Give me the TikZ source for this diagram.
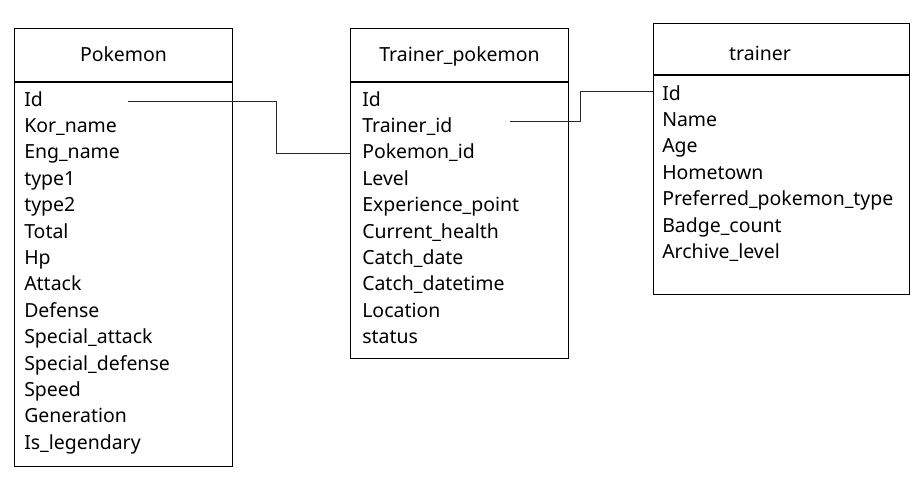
\documentclass[tikz,border=0pt]{standalone}
\usepackage{fontspec}
\setmainfont{Noto Sans}
\usetikzlibrary{positioning}
\tikzstyle{tablehead} = [rectangle, draw, line width=0.75pt, inner sep=0pt, text height=1.2em, text depth=.2em]
\tikzstyle{tablebody} = [rectangle, draw, line width=0.75pt, inner sep=0pt, anchor=north]
\tikzstyle{row} = [anchor=base west, inner sep=0pt, text height=.95em, text depth=.2em]
\tikzstyle{link} = [draw, line width=0.75pt, black!85]
\tikzset{rowbelow/.style={below=of #1.base west, anchor=base west}}

\begin{document}
\begin{tikzpicture}[x=0.75pt,y=-0.75pt,node distance=19.8pt,font=\fontsize{14.6}{17}\selectfont]
  \useasboundingbox (0,0) rectangle (923,479);

  % Pokemon
  \node[tablehead, anchor=north west, minimum width=163.5pt, minimum height=39.75pt] (pk-head) at (14,28) {Pokemon};
  \node[tablebody, minimum width=163.5pt, minimum height=288pt] (pk-body) at (pk-head.south) {};
  \node[row] (pk-id) at (24,106) {Id};
  \node[row, rowbelow=pk-id] (pk-kor) {Kor\_name};
  \node[row, rowbelow=pk-kor] (pk-eng) {Eng\_name};
  \node[row, rowbelow=pk-eng] (pk-type1) {type1};
  \node[row, rowbelow=pk-type1] (pk-type2) {type2};
  \node[row, rowbelow=pk-type2] (pk-total) {Total};
  \node[row, rowbelow=pk-total] (pk-hp) {Hp};
  \node[row, rowbelow=pk-hp] (pk-atk) {Attack};
  \node[row, rowbelow=pk-atk] (pk-def) {Defense};
  \node[row, rowbelow=pk-def] (pk-spatk) {Special\_attack};
  \node[row, rowbelow=pk-spatk] (pk-spdef) {Special\_defense};
  \node[row, rowbelow=pk-spdef] (pk-speed) {Speed};
  \node[row, rowbelow=pk-speed] (pk-gen) {Generation};
  \node[row, rowbelow=pk-gen] (pk-leg) {Is\_legendary};

  % Trainer_pokemon
  \node[tablehead, anchor=north west, minimum width=163.5pt, minimum height=39.75pt] (tp-head) at (350,28) {Trainer\_pokemon};
  \node[tablebody, minimum width=163.5pt, minimum height=207pt] (tp-body) at (tp-head.south) {};
  \node[row] (tp-id) at (362,106) {Id};
  \node[row, rowbelow=tp-id] (tp-trid) {Trainer\_id};
  \node[row, rowbelow=tp-trid] (tp-pkid) {Pokemon\_id};
  \node[row, rowbelow=tp-pkid] (tp-level) {Level};
  \node[row, rowbelow=tp-level] (tp-exp) {Experience\_point};
  \node[row, rowbelow=tp-exp] (tp-health) {Current\_health};
  \node[row, rowbelow=tp-health] (tp-date) {Catch\_date};
  \node[row, rowbelow=tp-date] (tp-datetime) {Catch\_datetime};
  \node[row, rowbelow=tp-datetime] (tp-loc) {Location};
  \node[row, rowbelow=tp-loc] (tp-status) {status};

  % trainer
  \node[tablehead, anchor=north west, minimum width=192pt, minimum height=38.25pt] (tr-head) at (653,23) {};
  \node (tr-title) at (760,53) {trainer};
  \node[tablebody, minimum width=192pt, minimum height=164.25pt] (tr-body) at (tr-head.south) {};
  \node[row] (tr-id) at (662,100) {Id};
  \node[row, rowbelow=tr-id] (tr-name) {Name};
  \node[row, rowbelow=tr-name] (tr-age) {Age};
  \node[row, rowbelow=tr-age] (tr-town) {Hometown};
  \node[row, rowbelow=tr-town] (tr-pref) {Preferred\_pokemon\_type};
  \node[row, rowbelow=tr-pref] (tr-badge) {Badge\_count};
  \node[row, rowbelow=tr-badge] (tr-archive) {Archive\_level};

  % links
  \coordinate (pk-link) at ([xshift=78pt]pk-id.west);
  \coordinate (tp-link) at ([xshift=111pt,yshift=4.5pt]tp-trid.west);
  \coordinate (tr-link) at ([yshift=3pt]tr-id.west);
  \path[link] (pk-link) -- ++(148,0) |- (tp-body.west |- tp-pkid.west);
  \path[link] (tp-link) -- ++(70,0) |- (tr-body.west |- tr-link);
\end{tikzpicture}
\end{document}
